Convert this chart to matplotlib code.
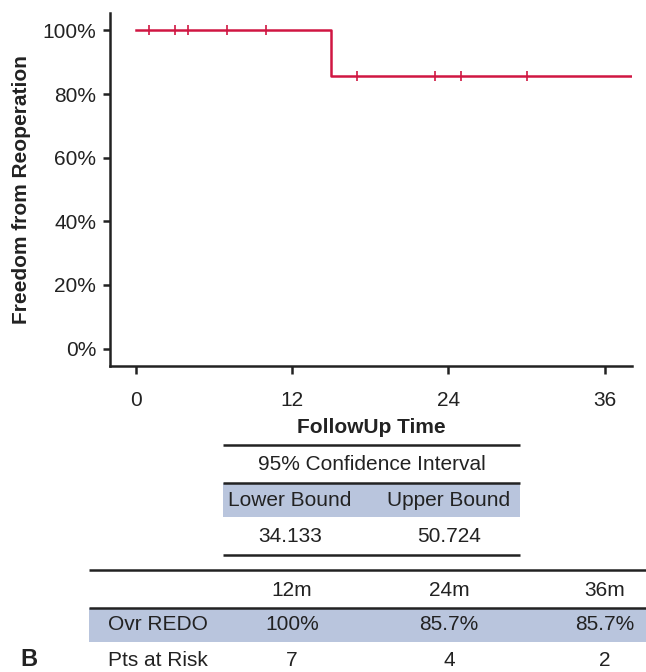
import matplotlib
matplotlib.use('Agg')
import matplotlib.pyplot as plt
from matplotlib.patches import Rectangle

plt.rcParams['font.family'] = ['Liberation Sans', 'DejaVu Sans']

# Kaplan-Meier data: freedom from reoperation
step_times = [0, 15, 38]
step_surv = [100, 85.7, 85.7]
censor_times = [1, 3, 4, 7, 10, 17, 23, 25, 30]
x_ticks = [0, 12, 24, 36]
y_ticks = [0, 20, 40, 60, 80, 100]

ci_header = '95% Confidence Interval'
ci_cols = ['Lower Bound', 'Upper Bound']
ci_vals = ['34.133', '50.724']

tab_cols = ['12m', '24m', '36m']
tab_rows = ['Ovr REDO', 'Pts at Risk']
tab_vals = [['100%', '85.7%', '85.7%'], ['7', '4', '2']]

RED = '#D01642'
SHADE = '#B9C5DD'
INK = '#222222'
FS = 15

W, H = 646, 672
fig = plt.figure(figsize=(W / 100, H / 100), dpi=100)

ax = fig.add_axes([110 / W, 1 - 366 / H, 522 / W, 353 / H])
ax.step(step_times, step_surv, where='post', color=RED, lw=1.8)

def surv_at(t):
    s = step_surv[0]
    for tt, ss in zip(step_times, step_surv):
        if t >= tt:
            s = ss
    return s

ax.plot(censor_times, [surv_at(t) for t in censor_times], ls='none',
        marker='|', ms=7, mew=1.2, color=RED)

ax.set_xlim(-2, 38.1)
ax.set_ylim(-5.5, 105.5)
ax.set_xticks(x_ticks)
ax.set_yticks(y_ticks)
ax.set_yticklabels([f'{v}%' for v in y_ticks])
ax.tick_params(labelsize=FS, width=1.8, length=5, color=INK, labelcolor=INK, pad=5)
ax.tick_params(axis='x', length=6, pad=12)
for s in ['top', 'right']:
    ax.spines[s].set_visible(False)
for s in ['left', 'bottom']:
    ax.spines[s].set_linewidth(1.8)
    ax.spines[s].set_color(INK)
ax.set_xlabel('FollowUp Time', fontsize=FS, fontweight='bold', labelpad=6, color=INK)
ax.set_ylabel('Freedom from Reoperation', fontsize=FS, fontweight='bold', labelpad=8, color=INK)

# overlay in pixel coordinates for the tables
ov = fig.add_axes([0, 0, 1, 1])
ov.set_xlim(0, W)
ov.set_ylim(H, 0)
ov.axis('off')

def hline(y, x0, x1):
    ov.plot([x0, x1], [y, y], color=INK, lw=1.8, solid_capstyle='butt')

# confidence interval table
ci_x0, ci_x1 = 223, 520
ci_centers = [290, 449]
hline(445, ci_x0, ci_x1)
ov.text((ci_x0 + ci_x1) / 2, 464, ci_header, ha='center', va='center', fontsize=FS, color=INK)
ov.add_patch(Rectangle((ci_x0, 483), ci_x1 - ci_x0, 34, color=SHADE, lw=0))
hline(483, ci_x0, ci_x1)
for cx, lab, val in zip(ci_centers, ci_cols, ci_vals):
    ov.text(cx, 500, lab, ha='center', va='center', fontsize=FS, color=INK)
    ov.text(cx, 536, val, ha='center', va='center', fontsize=FS, color=INK)
hline(555, ci_x0, ci_x1)

# survival estimates table
t_x0, t_x1 = 89, W
col_centers = [292, 449, 605]
hline(570, t_x0, t_x1)
for cx, lab in zip(col_centers, tab_cols):
    ov.text(cx, 590, lab, ha='center', va='center', fontsize=FS, color=INK)
ov.add_patch(Rectangle((t_x0, 608), t_x1 - t_x0, 34, color=SHADE, lw=0))
hline(608, t_x0, t_x1)
row_y = [625, 661]
for ry, rlab, vals in zip(row_y, tab_rows, tab_vals):
    ov.text(108, ry, rlab, ha='left', va='center', fontsize=FS, color=INK)
    for cx, v in zip(col_centers, vals):
        ov.text(cx, ry, v, ha='center', va='center', fontsize=FS, color=INK)

ov.text(29, 660, 'B', ha='center', va='center', fontsize=17, fontweight='bold', color=INK)

fig.savefig('out.png', dpi=100)
